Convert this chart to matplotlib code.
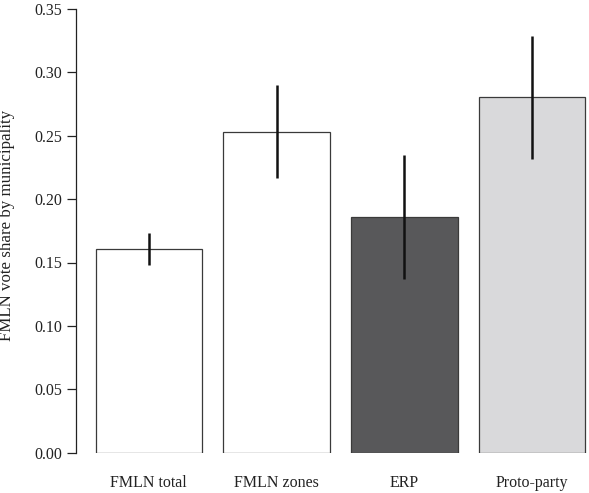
import matplotlib
matplotlib.use("Agg")
import matplotlib.pyplot as plt

# data
groups = ["FMLN total", "FMLN zones", "ERP", "Proto-party"]
share = [0.1609, 0.2531, 0.1856, 0.2803]
ci_low = [0.1480, 0.2164, 0.1372, 0.2316]
ci_high = [0.1730, 0.2897, 0.2345, 0.3289]
fills = ["white", "white", "#58585a", "#d9d9db"]

plt.rcParams["font.family"] = ["Liberation Serif", "DejaVu Serif"]

W, H = 589, 493
fig = plt.figure(figsize=(W / 100, H / 100), dpi=100)

# R-style barplot: width 1, space 0.2, x range extended by 4%
x = [0.2 + 1.2 * i + 0.5 for i in range(len(groups))]
x0, x1 = 0.016, 4.984
px_unit = 106.5
left_px, bottom_px, top_px = 76, 452.7, 8.9
ax_w = (x1 - x0) * px_unit
ax = fig.add_axes([left_px / W, (H - bottom_px) / H,
                   ax_w / W, (bottom_px - top_px) / H])

ax.bar(x, share, width=1.0, color=fills, edgecolor="#3a3a3a", linewidth=0.9)
for xi, lo, hi in zip(x, ci_low, ci_high):
    ax.plot([xi, xi], [lo, hi], color="#111111", lw=1.8, solid_capstyle="butt")

ax.set_xlim(x0, x1)
ax.set_ylim(0, 0.35)
ax.set_yticks([0, 0.05, 0.10, 0.15, 0.20, 0.25, 0.30, 0.35])
ax.set_yticklabels([f"{v:.2f}" for v in ax.get_yticks()])
ax.set_xticks(x)
ax.set_xticklabels(groups)

for s in ["top", "right", "bottom"]:
    ax.spines[s].set_visible(False)
ax.spines["left"].set_linewidth(0.9)
ax.spines["left"].set_color("#222222")

ax.tick_params(axis="y", length=6.5, width=0.9, pad=3.5, labelsize=11.5,
               color="#222222", labelcolor="#222222")
ax.tick_params(axis="x", length=0, pad=16, labelsize=11.5, labelcolor="#222222")

ax.set_ylabel("FMLN vote share by municipality", fontsize=12.2, color="#222222")
ax.yaxis.set_label_coords((15.5 - left_px) / ax_w, 0.513)

fig.savefig("out.png", dpi=100)
